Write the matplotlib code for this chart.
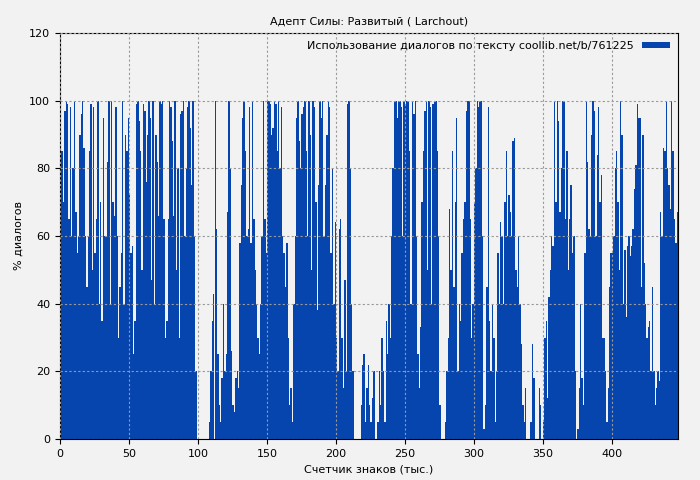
import matplotlib
matplotlib.use("Agg")
import matplotlib.pyplot as plt
import numpy as np

values = [
95,85,70,97,100,99,65,98,60,80,
100,67,55,60,90,96,100,86,60,45,
60,85,99,50,98,55,65,100,40,70,
35,95,60,60,82,100,40,100,70,66,
98,60,30,45,55,100,40,90,85,95,
72,55,57,25,35,99,100,94,85,50,
99,97,76,90,100,95,47,100,40,90,
82,66,100,99,100,65,30,35,65,100,
98,88,66,100,50,80,30,96,97,100,
60,80,98,100,92,75,100,60,20,0,
0,0,0,0,0,0,0,0,5,20,
35,43,100,62,25,10,5,18,40,20,
25,67,100,80,26,10,8,18,20,15,
58,75,95,100,85,60,62,98,58,100,
65,50,40,30,25,40,60,100,65,55,
100,100,99,90,92,100,99,85,100,80,
98,60,55,45,58,30,10,15,5,40,
60,95,100,88,80,96,98,100,85,60,
100,90,50,100,98,70,38,75,100,95,
100,60,75,90,100,98,55,80,40,64,
30,20,62,65,30,15,47,20,99,100,
80,40,20,0,0,0,0,0,10,22,
25,5,15,22,10,5,12,20,0,0,
5,20,10,30,20,5,35,25,40,30,
60,80,100,100,95,100,100,98,60,100,
99,100,100,85,40,100,96,100,60,25,
15,33,70,85,97,100,50,100,98,40,
99,100,100,85,60,10,0,0,0,5,
20,30,68,50,85,45,70,95,20,40,
35,55,65,70,97,100,100,65,30,40,
70,80,100,98,100,100,60,3,10,45,
98,35,20,40,30,5,20,55,40,64,
60,40,70,85,60,72,67,60,88,89,
50,45,60,40,28,10,5,15,0,0,
0,5,28,18,0,0,0,15,10,0,
5,30,35,12,42,50,60,57,100,70,
100,94,67,80,100,100,65,85,50,65,
75,55,60,20,0,3,15,40,18,10,
55,100,82,62,60,90,100,97,60,84,
98,70,78,30,30,20,5,15,45,55,
55,60,80,85,70,50,100,90,40,56,
36,57,60,54,57,62,74,81,99,95,
95,45,90,52,40,30,33,35,20,45,
20,10,15,20,17,67,60,86,85,100,
80,75,68,100,85,65,58,67,
]
x = np.arange(len(values))

fig = plt.figure(figsize=(7, 4.8), dpi=100, facecolor="#f2f2f2")
ax = fig.add_axes([60/700, 41/480, 618/700, 406/480])
ax.set_facecolor("#f2f2f2")
ax.bar(x, values, width=1.0, align="edge", color="#0645ad", linewidth=0,
       label="Использование диалогов по тексту coollib.net/b/761225")
ax.set_xlim(0, 448)
ax.set_ylim(0, 120)
ax.set_xticks(range(0, 401, 50))
ax.set_yticks(range(0, 121, 20))
ax.grid(True, color="#999999", linestyle=(0, (2, 2)), linewidth=0.8)
ax.set_axisbelow(False)
ax.tick_params(labelsize=8)
ax.set_xlabel("Счетчик знаков (тыс.)", fontsize=8)
ax.set_ylabel("% диалогов", fontsize=8)
ax.set_title("Адепт Силы: Развитый ( Larchout)", fontsize=8)
ax.legend(loc="upper right", fontsize=8, frameon=False, markerfirst=False,
          handlelength=2.5, handleheight=0.4, borderaxespad=0.3)
fig.savefig("out.png", dpi=100, facecolor="#f2f2f2")
